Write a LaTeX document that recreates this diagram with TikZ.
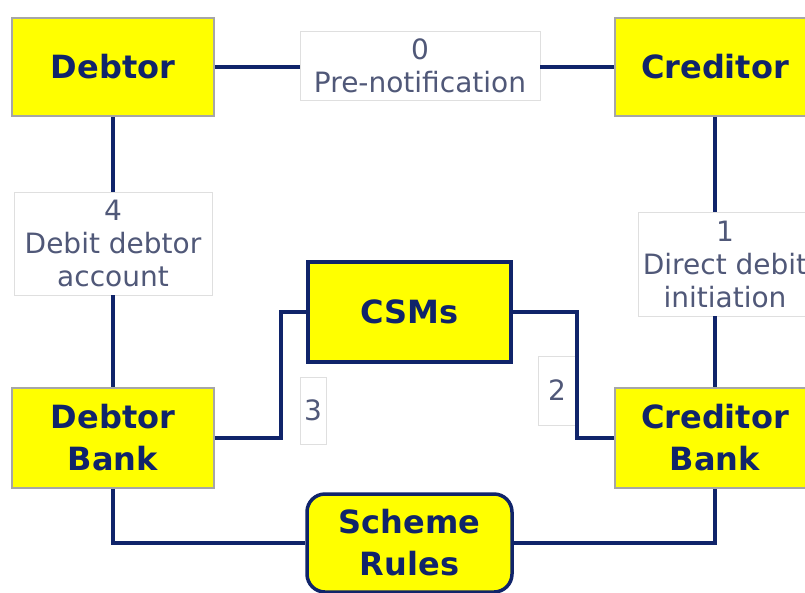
\documentclass[tikz,border=0pt]{standalone}
\usepackage{fontspec}
\setmainfont{DejaVu Sans}
\definecolor{boxyellow}{HTML}{FFFF00}
\definecolor{navy}{HTML}{10246A}
\definecolor{labelgray}{HTML}{505878}
\begin{document}
\begin{tikzpicture}[x=1pt,y=-1pt,
    party/.style={draw=gray!70,line width=1.5pt,fill=boxyellow,text=navy,
      font=\fontsize{32}{42}\selectfont\bfseries,align=center,inner sep=0pt},
    hub/.style={party,draw=navy,line width=3.5pt},
    steplabel/.style={draw=gray!25,line width=0.8pt,fill=white,text=labelgray,
      font=\fontsize{28}{33}\selectfont,align=center,inner sep=0pt},
    link/.style={draw=navy,line width=4pt}]
      \clip (0,0) rectangle (805,592);
      \node[party,minimum width=202pt,minimum height=98pt] (debtor) at (113,67) {Debtor};
      \node[party,minimum width=200pt,minimum height=98pt] (creditor) at (715,67) {Creditor};
      \node[party,minimum width=202pt,minimum height=100pt] (dbank) at (113,438) {Debtor\\Bank};
      \node[party,minimum width=200pt,minimum height=100pt] (cbank) at (715,438) {Creditor\\Bank};
      \node[hub,minimum width=203pt,minimum height=100pt] (csms) at (409.5,312) {CSMs};
      \node[hub,rounded corners=18pt,minimum width=205pt,minimum height=98pt] (rules) at (409.5,543) {Scheme\\Rules};
      \node[steplabel,minimum width=240pt,minimum height=69pt] (l0) at (420,65.5) {0\\Pre-notification};
      \node[steplabel,minimum width=198pt,minimum height=103pt] (l4) at (113,243.5) {4\\Debit debtor\\account};
      \node[steplabel,minimum width=174pt,minimum height=104pt] (l1) at (725,264) {1\\Direct debit\\initiation};
      \node[steplabel,minimum width=26pt,minimum height=67pt] (l3) at (313,410.5) {3};
      \node[steplabel,minimum width=38pt,minimum height=69pt] (l2) at (557,390.5) {2};
      \coordinate (j3) at (281,312);
      \coordinate (j2) at (577,438);
      \begin{scope}[link]
        \draw (debtor.east) -- (debtor.east -| l0.west);
        \draw (l0.east |- creditor.west) -- (creditor.west);
        \draw (debtor.south) -- (l4.north);
        \draw (l4.south) -- (dbank.north);
        \draw (creditor.south) -- (creditor.south |- l1.north);
        \draw (cbank.north |- l1.south) -- (cbank.north);
        \draw (dbank.east) -| (j3) -- (csms.west);
        \draw (csms.east) -| (j2) -- (cbank.west);
        \draw (dbank.south) |- (rules.west);
        \draw (rules.east) -| (cbank.south);
      \end{scope}
    \end{tikzpicture}
\end{document}
